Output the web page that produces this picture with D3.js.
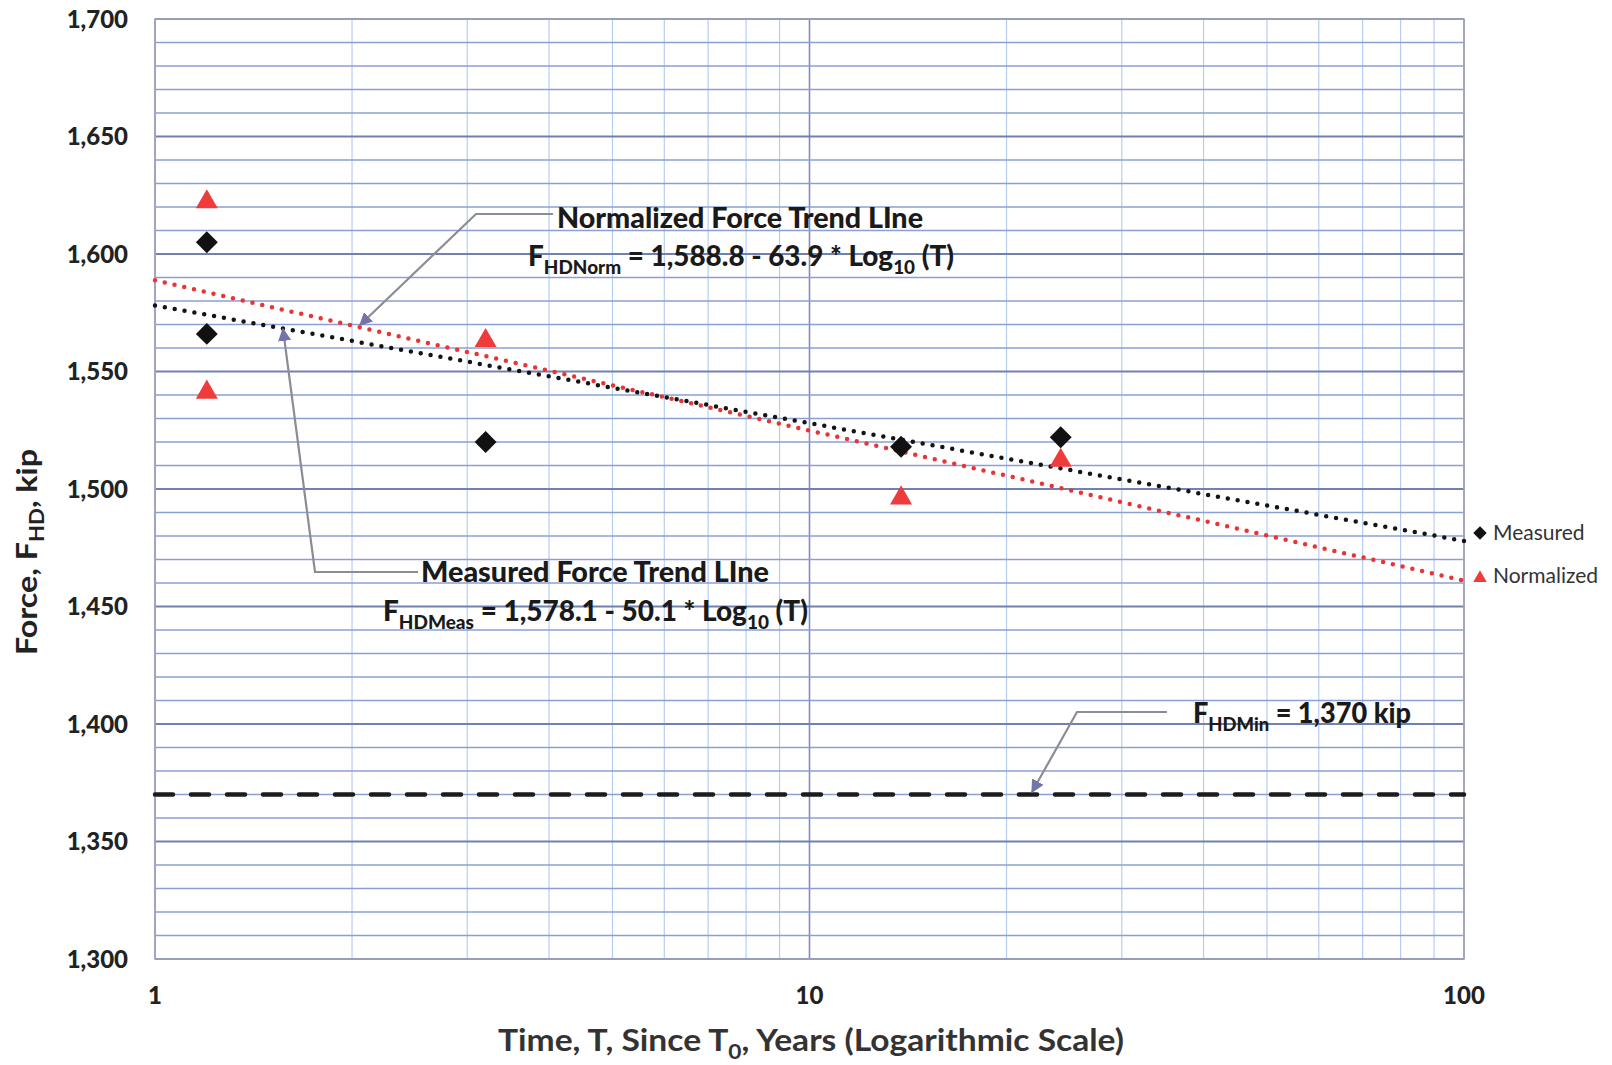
<!DOCTYPE html>
<html>
<head>
<meta charset="utf-8">
<script src="https://cdn.jsdelivr.net/npm/d3@7"></script>
<style>
  body { margin: 0; background: #fff; }
  text { font-family: Lato, "Open Sans", sans-serif; }
</style>
</head>
<body>
<div id="chart"></div>
<script>
// values
var pointT = [1.2, 1.2, 3.2, 13.8, 24.2];
var measuredF = [1605, 1566, 1520, 1518, 1522];
var normalizedF = [1623, 1542, 1564, 1497, 1513];
var xTicks = [1, 10, 100];
var yTicks = [1300, 1350, 1400, 1450, 1500, 1550, 1600, 1650, 1700];
var measTrend = [1578.1, 50.1];   // a - b*log10(T)
var normTrend = [1588.8, 63.9];
var minForce = 1370;
var legendNames = ["Measured", "Normalized"];

var W = 1612, H = 1065;
var margin = {top: 19, right: 148, bottom: 106, left: 155};
var width = W - margin.left - margin.right;
var height = H - margin.top - margin.bottom;

var svg = d3.select("#chart").append("svg")
    .attr("width", W)
    .attr("height", H);

var x = d3.scaleLog().domain([1, 100]).range([0, width]);
var y = d3.scaleLinear().domain([1300, 1700]).range([height, 0]);

var g = svg.append("g").attr("transform", "translate(" + margin.left + "," + margin.top + ")");

// vertical grid (minor light, decade darker)
x.ticks().forEach(function(t){
    var major = xTicks.indexOf(t) >= 0;
    g.append("line")
        .attr("x1", x(t)).attr("x2", x(t))
        .attr("y1", 0).attr("y2", height)
        .style("stroke", major ? "#7f8cc4" : "#b6cdf2")
        .style("stroke-width", major ? 1.6 : 1.2);
});

// horizontal grid every 10 kip
d3.range(1300, 1701, 10).forEach(function(v){
    var major = v % 50 == 0;
    g.append("line")
        .attr("x1", 0).attr("x2", width)
        .attr("y1", y(v)).attr("y2", y(v))
        .style("stroke", major ? "#7081b0" : "#8b9fd0")
        .style("stroke-width", major ? 2.2 : 1.7);
});

// plot border
g.append("rect")
    .attr("width", width).attr("height", height)
    .style("fill", "none")
    .style("stroke", "#a4a8b8")
    .style("stroke-width", 1.5);

// y tick labels
g.selectAll(".ylab").data(yTicks).enter().append("text")
    .attr("x", -27)
    .attr("y", function(d){ return y(d); })
    .attr("dy", "0.36em")
    .attr("text-anchor", "end")
    .attr("font-size", 24)
    .attr("font-weight", 900)
    .style("fill", "#222")
    .text(function(d){ return d3.format(",")(d); });

// x tick labels
g.selectAll(".xlab").data(xTicks).enter().append("text")
    .attr("x", function(d){ return x(d); })
    .attr("y", height + 45)
    .attr("text-anchor", "middle")
    .attr("font-size", 24)
    .attr("font-weight", 900)
    .style("fill", "#222")
    .text(function(d){ return d; });

// axis titles
var xt = svg.append("text")
    .attr("x", 498).attr("y", 1051)
    .attr("font-size", 31)
    .attr("font-weight", "bold")
    .attr("textLength", 626)
    .attr("lengthAdjust", "spacingAndGlyphs")
    .style("fill", "#333");
xt.append("tspan").text("Time, T, Since T");
xt.append("tspan").attr("font-size", 21).attr("dy", 8).text("0");
xt.append("tspan").attr("dy", -8).text(", Years (Logarithmic Scale)");

var yt = svg.append("text")
    .attr("transform", "translate(37,655) rotate(-90)")
    .attr("font-size", 29)
    .attr("font-weight", "bold")
    .attr("textLength", 206)
    .attr("lengthAdjust", "spacingAndGlyphs")
    .style("fill", "#222");
yt.append("tspan").text("Force, F");
yt.append("tspan").attr("font-size", 20).attr("dy", 7).text("HD");
yt.append("tspan").attr("dy", -7).text(", kip");

// minimum force dashed line
g.append("line")
    .attr("x1", 0).attr("x2", width)
    .attr("y1", y(minForce)).attr("y2", y(minForce))
    .style("stroke", "#1c1c1c")
    .style("stroke-width", 4.5)
    .style("stroke-linecap", "round")
    .style("stroke-dasharray", "18 18");

// trend lines (dotted)
function trendLine(coef, color){
    var ends = [1, 100];
    g.append("line")
        .attr("x1", x(ends[0])).attr("y1", y(coef[0] - coef[1] * Math.log10(ends[0])))
        .attr("x2", x(ends[1])).attr("y2", y(coef[0] - coef[1] * Math.log10(ends[1])))
        .style("stroke", color)
        .style("stroke-width", 4.5)
        .style("stroke-linecap", "round")
        .style("stroke-dasharray", "0 10");
}
trendLine(normTrend, "#ea3434");
trendLine(measTrend, "#141414");

// markers
var diamond = d3.symbol().type(d3.symbolSquare).size(240);
var triangle = d3.symbol().type(d3.symbolTriangle).size(210);

g.selectAll(".norm").data(normalizedF).enter().append("path")
    .attr("d", triangle)
    .attr("transform", function(d, i){ return "translate(" + x(pointT[i]) + "," + (y(d) + 2) + ")"; })
    .style("fill", "#ef3b3b");

g.selectAll(".meas").data(measuredF).enter().append("path")
    .attr("d", diamond)
    .attr("transform", function(d, i){ return "translate(" + x(pointT[i]) + "," + y(d) + ") rotate(45)"; })
    .style("fill", "#111");

// legend
var leg = svg.append("g");
leg.append("path")
    .attr("d", d3.symbol().type(d3.symbolSquare).size(90))
    .attr("transform", "translate(1480,533) rotate(45)")
    .style("fill", "#111");
leg.append("path")
    .attr("d", d3.symbol().type(d3.symbolTriangle).size(80))
    .attr("transform", "translate(1480,578)")
    .style("fill", "#ef3b3b");
leg.selectAll(".lt").data(legendNames).enter().append("text")
    .attr("x", 1493)
    .attr("y", function(d, i){ return 540 + i * 43; })
    .attr("font-size", 21)
    .style("fill", "#333")
    .text(function(d){ return d; });

// annotations with leader arrows
svg.append("defs").append("marker")
    .attr("id", "arr")
    .attr("viewBox", "0 0 10 10")
    .attr("refX", 9).attr("refY", 5)
    .attr("markerWidth", 6).attr("markerHeight", 6)
    .attr("markerUnits", "strokeWidth")
    .attr("orient", "auto")
    .append("path")
    .attr("d", "M0,0 L10,5 L0,10 Z")
    .style("fill", "#7474a8");

function leader(pts){
    svg.append("path")
        .attr("d", d3.line()(pts))
        .style("fill", "none")
        .style("stroke", "#8c8c96")
        .style("stroke-width", 2.2)
        .attr("marker-end", "url(#arr)");
}
leader([[553, 214], [476, 214], [360, 325]]);
leader([[418, 572], [315, 572], [283, 329]]);
leader([[1167, 712], [1077, 712], [1032, 792]]);

function label(xp, yp, len, parts){
    var t = svg.append("text")
        .attr("x", xp).attr("y", yp)
        .attr("font-size", 28)
        .attr("font-weight", 900)
        .attr("textLength", len)
        .attr("lengthAdjust", "spacingAndGlyphs")
        .style("fill", "#1a1a1a");
    parts.forEach(function(p){
        var s = t.append("tspan").text(p[0]);
        if (p[1] == "sub") s.attr("font-size", 19).attr("dy", 8);
        if (p[1] == "up") s.attr("dy", -8);
    });
}
label(557, 228, 366, [["Normalized Force Trend LIne"]]);
label(528, 266, 426, [["F"], ["HDNorm", "sub"], [" = 1,588.8 - 63.9 * Log", "up"], ["10", "sub"], [" (T)", "up"]]);
label(421, 582, 348, [["Measured Force Trend LIne"]]);
label(383, 621, 425, [["F"], ["HDMeas", "sub"], [" = 1,578.1 - 50.1 * Log", "up"], ["10", "sub"], [" (T)", "up"]]);
label(1193, 723, 218, [["F"], ["HDMin", "sub"], [" = 1,370 kip", "up"]]);
</script>
</body>
</html>
